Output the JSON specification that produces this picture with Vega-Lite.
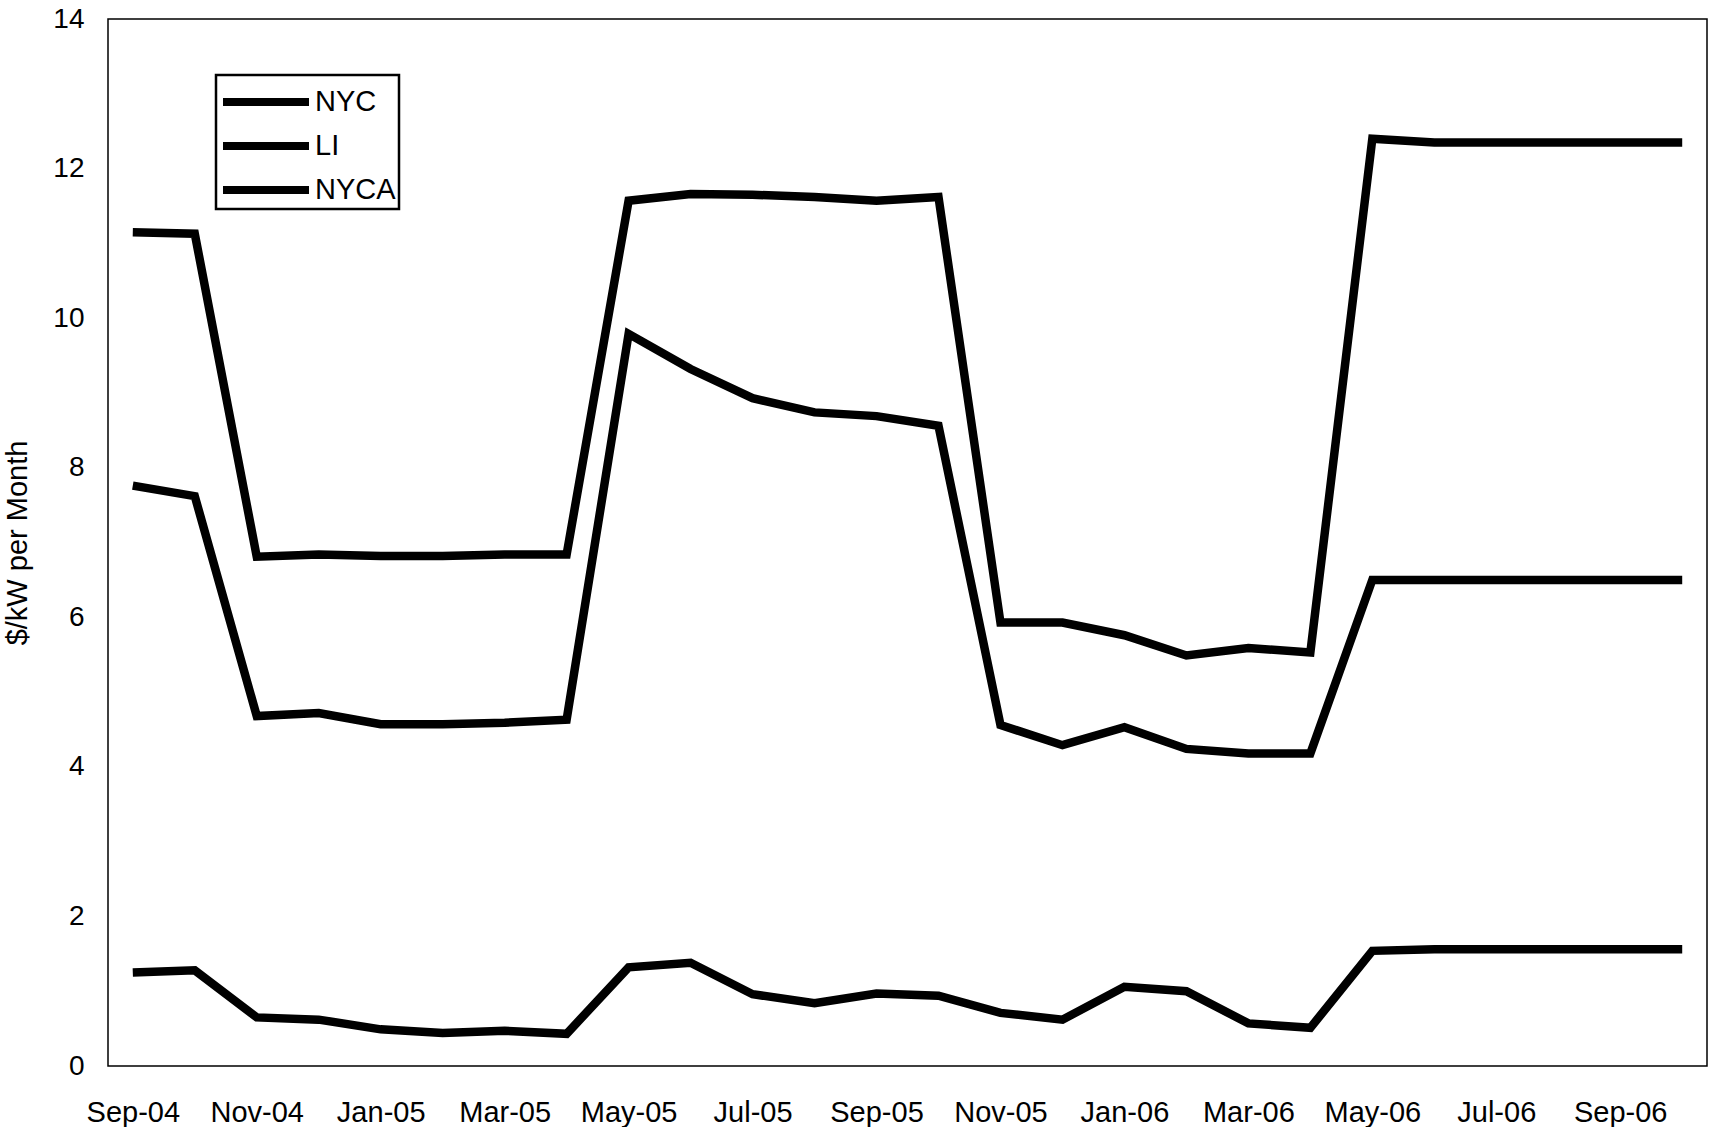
{
  "$schema": "https://vega.github.io/schema/vega-lite/v6.json",
  "width": 1599,
  "height": 1047,
  "autosize": {"type": "none"},
  "padding": {"left": 108, "top": 19, "right": 16, "bottom": 61},
  "background": "white",
  "config": {
    "font": "Liberation Sans",
    "view": {"stroke": "black", "strokeWidth": 1.5},
    "axis": {"grid": false, "ticks": false, "domain": false, "labelColor": "black", "titleColor": "black", "labelFont": "Liberation Sans", "titleFont": "Liberation Sans"},
    "legend": {"strokeWidth": 2.5}
  },
  "data": {"values": [
    {"month":"Sep-04","series":"NYC","value":11.15},{"month":"Oct-04","series":"NYC","value":11.13},{"month":"Nov-04","series":"NYC","value":6.81},{"month":"Dec-04","series":"NYC","value":6.84},{"month":"Jan-05","series":"NYC","value":6.82},{"month":"Feb-05","series":"NYC","value":6.82},{"month":"Mar-05","series":"NYC","value":6.84},{"month":"Apr-05","series":"NYC","value":6.84},{"month":"May-05","series":"NYC","value":11.57},{"month":"Jun-05","series":"NYC","value":11.66},{"month":"Jul-05","series":"NYC","value":11.65},{"month":"Aug-05","series":"NYC","value":11.62},{"month":"Sep-05","series":"NYC","value":11.57},{"month":"Oct-05","series":"NYC","value":11.62},{"month":"Nov-05","series":"NYC","value":5.93},{"month":"Dec-05","series":"NYC","value":5.93},{"month":"Jan-06","series":"NYC","value":5.76},{"month":"Feb-06","series":"NYC","value":5.49},{"month":"Mar-06","series":"NYC","value":5.59},{"month":"Apr-06","series":"NYC","value":5.53},{"month":"May-06","series":"NYC","value":12.4},{"month":"Jun-06","series":"NYC","value":12.35},{"month":"Jul-06","series":"NYC","value":12.35},{"month":"Aug-06","series":"NYC","value":12.35},{"month":"Sep-06","series":"NYC","value":12.35},{"month":"Oct-06","series":"NYC","value":12.35},
    {"month":"Sep-04","series":"LI","value":7.76},{"month":"Oct-04","series":"LI","value":7.62},{"month":"Nov-04","series":"LI","value":4.68},{"month":"Dec-04","series":"LI","value":4.72},{"month":"Jan-05","series":"LI","value":4.57},{"month":"Feb-05","series":"LI","value":4.57},{"month":"Mar-05","series":"LI","value":4.59},{"month":"Apr-05","series":"LI","value":4.63},{"month":"May-05","series":"LI","value":9.79},{"month":"Jun-05","series":"LI","value":9.32},{"month":"Jul-05","series":"LI","value":8.93},{"month":"Aug-05","series":"LI","value":8.74},{"month":"Sep-05","series":"LI","value":8.69},{"month":"Oct-05","series":"LI","value":8.56},{"month":"Nov-05","series":"LI","value":4.56},{"month":"Dec-05","series":"LI","value":4.29},{"month":"Jan-06","series":"LI","value":4.53},{"month":"Feb-06","series":"LI","value":4.24},{"month":"Mar-06","series":"LI","value":4.18},{"month":"Apr-06","series":"LI","value":4.18},{"month":"May-06","series":"LI","value":6.5},{"month":"Jun-06","series":"LI","value":6.5},{"month":"Jul-06","series":"LI","value":6.5},{"month":"Aug-06","series":"LI","value":6.5},{"month":"Sep-06","series":"LI","value":6.5},{"month":"Oct-06","series":"LI","value":6.5},
    {"month":"Sep-04","series":"NYCA","value":1.25},{"month":"Oct-04","series":"NYCA","value":1.28},{"month":"Nov-04","series":"NYCA","value":0.65},{"month":"Dec-04","series":"NYCA","value":0.62},{"month":"Jan-05","series":"NYCA","value":0.49},{"month":"Feb-05","series":"NYCA","value":0.44},{"month":"Mar-05","series":"NYCA","value":0.47},{"month":"Apr-05","series":"NYCA","value":0.43},{"month":"May-05","series":"NYCA","value":1.32},{"month":"Jun-05","series":"NYCA","value":1.38},{"month":"Jul-05","series":"NYCA","value":0.96},{"month":"Aug-05","series":"NYCA","value":0.84},{"month":"Sep-05","series":"NYCA","value":0.97},{"month":"Oct-05","series":"NYCA","value":0.94},{"month":"Nov-05","series":"NYCA","value":0.71},{"month":"Dec-05","series":"NYCA","value":0.62},{"month":"Jan-06","series":"NYCA","value":1.06},{"month":"Feb-06","series":"NYCA","value":1.0},{"month":"Mar-06","series":"NYCA","value":0.57},{"month":"Apr-06","series":"NYCA","value":0.51},{"month":"May-06","series":"NYCA","value":1.54},{"month":"Jun-06","series":"NYCA","value":1.56},{"month":"Jul-06","series":"NYCA","value":1.56},{"month":"Aug-06","series":"NYCA","value":1.56},{"month":"Sep-06","series":"NYCA","value":1.56},{"month":"Oct-06","series":"NYCA","value":1.56}
  ]},
  "mark": {"type": "line", "strokeWidth": 8.5, "strokeJoin": "miter", "strokeCap": "butt"},
  "encoding": {
    "x": {
      "field": "month", "type": "ordinal", "sort": null,
      "scale": {"type": "point", "padding": 0.4},
      "axis": {"title": null, "labelAngle": 0, "labelFontSize": 29, "labelPadding": 32,
        "values": ["Sep-04","Nov-04","Jan-05","Mar-05","May-05","Jul-05","Sep-05","Nov-05","Jan-06","Mar-06","May-06","Jul-06","Sep-06"]}
    },
    "y": {
      "field": "value", "type": "quantitative",
      "scale": {"domain": [0, 14], "nice": false, "zero": true},
      "axis": {"title": "$/kW per Month", "values": [0,2,4,6,8,10,12,14], "labelFontSize": 28, "labelPadding": 24, "titleFontSize": 29, "titleFontWeight": "normal", "titlePadding": 20}
    },
    "color": {
      "field": "series", "type": "nominal",
      "scale": {"domain": ["NYC", "LI", "NYCA"], "range": ["black", "black", "black"]},
      "legend": {
        "title": null, "orient": "none", "legendX": 108, "legendY": 56,
        "symbolType": "M-1,0H3.3", "symbolSize": 1600, "symbolStrokeWidth": 8,
        "labelFontSize": 29, "labelColor": "black", "labelOffset": 48,
        "strokeColor": "black", "padding": 3, "rowPadding": 4,
        "fillColor": "white"
      }
    }
  }
}
